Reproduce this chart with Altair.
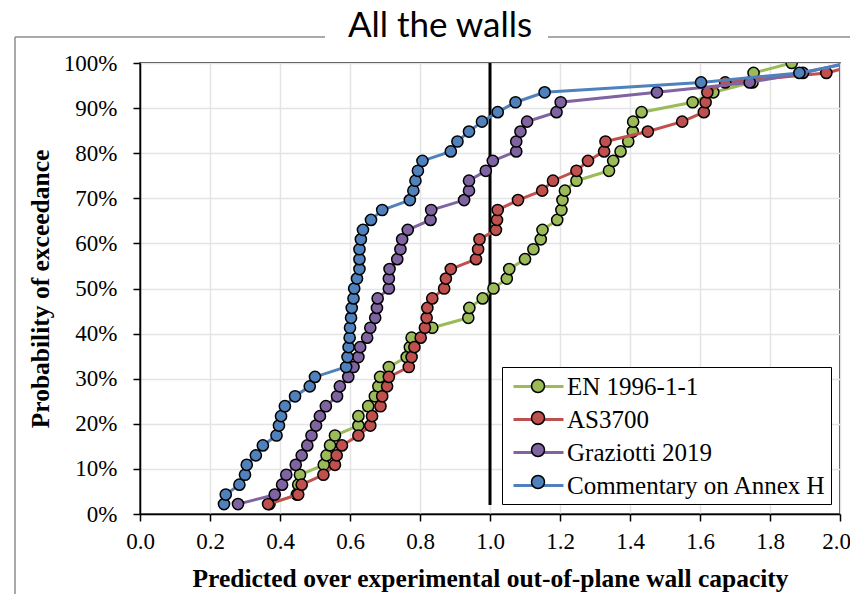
import altair as alt
import pandas as pd

# ---------------- data ----------------
series_names = ["EN 1996-1-1", "AS3700", "Graziotti 2019", "Commentary on Annex H"]
series_colors = ["#9BBB59", "#C0504D", "#8064A2", "#4F81BD"]

# probability of exceedance (%) of the ranked walls
prob_pct = [2.2, 4.3, 6.5, 8.7, 10.9, 13.0, 15.2, 17.4, 19.6, 21.7, 23.9, 26.1,
            28.3, 30.4, 32.6, 34.8, 37.0, 39.1, 41.3, 43.5, 45.7, 47.8, 50.0, 52.2,
            54.3, 56.5, 58.7, 60.9, 63.0, 65.2, 67.4, 69.6, 71.7, 73.9, 76.1, 78.3,
            80.4, 82.6, 84.8, 87.0, 89.1, 91.3, 93.5, 95.7, 97.8, 100.0]

en_x = [0.37, 0.448, 0.452, 0.457, 0.525, 0.533, 0.543, 0.557, 0.624, 0.624, 0.652, 0.671,
        0.681, 0.686, 0.711, 0.762, 0.771, 0.776, 0.835, 0.938, 0.941, 0.979, 1.01, 1.048,
        1.055, 1.10, 1.124, 1.145, 1.15, 1.192, 1.204, 1.207, 1.214, 1.247, 1.34, 1.352,
        1.373, 1.395, 1.408, 1.409, 1.433, 1.579, 1.638, 1.75, 1.753, 1.862]
as_x = [0.366, 0.452, 0.462, 0.524, 0.557, 0.562, 0.577, 0.624, 0.658, 0.663, 0.687, 0.692,
        0.706, 0.711, 0.768, 0.776, 0.784, 0.802, 0.814, 0.819, 0.821, 0.835, 0.869, 0.874,
        0.888, 0.96, 0.966, 0.97, 1.017, 1.02, 1.022, 1.08, 1.149, 1.18, 1.247, 1.28,
        1.326, 1.33, 1.451, 1.549, 1.611, 1.616, 1.621, 1.672, 1.961, 2.07]
gr_x = [0.28, 0.385, 0.406, 0.418, 0.445, 0.462, 0.478, 0.49, 0.503, 0.514, 0.531, 0.563,
        0.571, 0.595, 0.61, 0.624, 0.629, 0.649, 0.658, 0.672, 0.677, 0.679, 0.711, 0.711,
        0.713, 0.735, 0.744, 0.749, 0.765, 0.83, 0.832, 0.926, 0.94, 0.94, 0.988, 1.008,
        1.075, 1.075, 1.087, 1.106, 1.19, 1.202, 1.477, 1.742, 1.894, 2.02]
co_x = [0.24, 0.245, 0.284, 0.30, 0.305, 0.331, 0.351, 0.39, 0.397, 0.403, 0.414, 0.443,
        0.485, 0.50, 0.589, 0.593, 0.596, 0.599, 0.60, 0.603, 0.605, 0.61, 0.612, 0.62,
        0.627, 0.627, 0.627, 0.631, 0.637, 0.66, 0.692, 0.771, 0.781, 0.787, 0.794, 0.807,
        0.888, 0.907, 0.94, 0.977, 1.022, 1.073, 1.156, 1.603, 1.884, 2.03]

x_ticks = [0.0, 0.2, 0.4, 0.6, 0.8, 1.0, 1.2, 1.4, 1.6, 1.8, 2.0]
y_ticks = [0.0, 0.1, 0.2, 0.3, 0.4, 0.5, 0.6, 0.7, 0.8, 0.9, 1.0]

ref_ratio = [1.0]
ref_prob_from = [0.02]
ref_prob_to = [1.0]

title_text = "All the walls"
x_title = "Predicted over experimental out-of-plane wall capacity"
y_title = "Probability of exceedance"

# ---------------- tables ----------------
rows = []
for name, xs in zip(series_names, [en_x, as_x, gr_x, co_x]):
    for xv, pv in zip(xs, prob_pct):
        rows.append({"series": name, "ratio": xv, "prob": pv / 100.0})
df = pd.DataFrame(rows)
ref_df = pd.DataFrame({"ratio": ref_ratio, "prob": ref_prob_from, "prob_end": ref_prob_to})
one_df = pd.DataFrame({"label": [title_text]})

SERIF = "Liberation Serif"

x_enc = alt.X("ratio:Q", scale=alt.Scale(domain=[0, 2], nice=False, zero=False),
              axis=alt.Axis(values=x_ticks, format=".1f", title=x_title,
                            titleX=350, titleY=72, titleBaseline="alphabetic",
                            labelPadding=9, labelFlush=False,
                            labelOffset={"condition": {"test": "datum.value >= 2", "value": -4},
                                         "value": 0}))
y_enc = alt.Y("prob:Q", scale=alt.Scale(domain=[0, 1], nice=False),
              axis=alt.Axis(values=y_ticks, format=".0%", title=y_title,
                            titleX=-100, titleY=225.5, titleAngle=-90,
                            titleBaseline="middle", titleAlign="center",
                            labelPadding=16, labelFlush=False))

LINE_SYM = "M-0.615,0H3.231"
CIRC_SYM = "M1.808,0A0.5,0.5,0,1,1,0.808,0A0.5,0.5,0,1,1,1.808,0Z"

common_leg = dict(orient="none", legendX=362, legendY=304, title=None,
                  symbolSize=676, padding=5, rowPadding=5, labelOffset=31,
                  labelFont=SERIF, labelFontSize=25, labelColor="black",
                  labelLimit=400)

color_enc = alt.Color("series:N",
                      scale=alt.Scale(domain=series_names, range=series_colors),
                      legend=alt.Legend(symbolType=LINE_SYM, symbolStrokeWidth=3,
                                        symbolFillColor="transparent",
                                        fillColor="white", strokeColor="black",
                                        **common_leg))
fill_enc = alt.Fill("series:N",
                    scale=alt.Scale(domain=series_names[::-1], range=series_colors[::-1]),
                    legend=alt.Legend(values=series_names, symbolType=CIRC_SYM,
                                      symbolStrokeColor="black", symbolStrokeWidth=1.5,
                                      labelExpr="''", **common_leg))

layers = []
layers.append(alt.Chart(ref_df).mark_rule(color="black", strokeWidth=3).encode(
    x=x_enc, y=y_enc, y2="prob_end:Q"))

for name in series_names:
    sub = alt.Chart(df).transform_filter(alt.datum.series == name)
    layers.append(sub.mark_line(strokeWidth=3, clip=True).encode(
        x=x_enc, y=y_enc, color=color_enc, order=alt.Order("prob:Q")))
    layers.append(sub.mark_circle(size=125, opacity=1, stroke="black",
                                  strokeWidth=1.5, clip=True).encode(
        x=x_enc, y=y_enc, fill=fill_enc))

# chart-area frame and title (decoration, in pixels)
deco = alt.Chart(one_df)
layers.append(deco.mark_rule(color="#8c8c8c", strokeWidth=1.5).encode(
    x=alt.value(-125), x2=alt.value(185), y=alt.value(-26)))
layers.append(deco.mark_rule(color="#8c8c8c", strokeWidth=1.5).encode(
    x=alt.value(408), x2=alt.value(712), y=alt.value(-26)))
layers.append(deco.mark_rule(color="#8c8c8c", strokeWidth=1.5).encode(
    x=alt.value(-125), y=alt.value(-26), y2=alt.value(540)))
layers.append(deco.mark_text(font="Lato", fontSize=35, color="black",
                             align="center", baseline="alphabetic").encode(
    text="label:N", x=alt.value(300), y=alt.value(-26)))

chart = alt.layer(*layers).properties(
    width=700, height=451,
    autosize=alt.AutoSizeParams(type="none"),
    padding={"left": 132, "top": 55, "right": 10, "bottom": 80},
    background="white",
).configure_view(
    stroke="black", strokeWidth=1.5
).configure_axis(
    labelFont=SERIF, labelFontSize=23, labelColor="black",
    titleFont=SERIF, titleFontSize=25.5, titleFontWeight="bold", titleColor="black",
    domainColor="black", domainWidth=1.5, tickColor="black", tickSize=7, tickWidth=1.5,
    gridColor="#e4e4e4", gridWidth=1.5,
)

chart.save("out.html", embed_options={"renderer": "svg", "actions": False})
